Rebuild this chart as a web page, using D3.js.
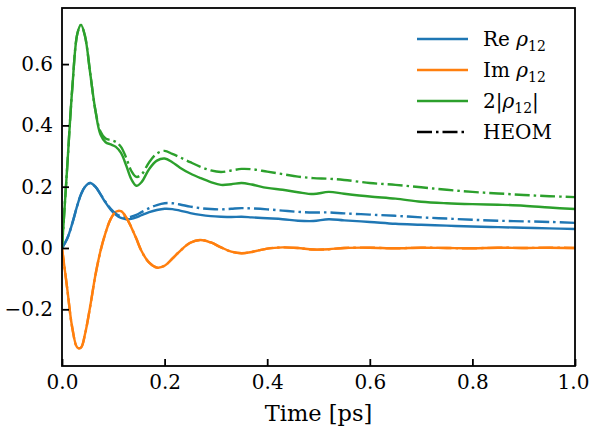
<!DOCTYPE html>
<html>
<head>
<meta charset="utf-8">
<script src="https://cdn.jsdelivr.net/npm/d3@7"></script>
<style>
  body { margin: 0; background: #fff; }
</style>
</head>
<body>
<svg width="590" height="428"></svg>
<script>
// time axis (ps)
var time = [0, 0.01, 0.02, 0.03, 0.037, 0.045, 0.055, 0.065, 0.075, 0.085, 0.095, 0.105, 0.115,
  0.125, 0.135, 0.145, 0.155, 0.17, 0.185, 0.2, 0.215, 0.23, 0.25, 0.27, 0.29, 0.31, 0.33, 0.35,
  0.37, 0.4, 0.43, 0.46, 0.49, 0.52, 0.55, 0.6, 0.65, 0.7, 0.75, 0.8, 0.85, 0.9, 0.95, 1.0];

// Re rho_12
var reSolid = [0, 0.03, 0.08, 0.14, 0.175, 0.2, 0.212, 0.2, 0.175, 0.148, 0.125, 0.108, 0.098,
  0.094, 0.095, 0.1, 0.107, 0.117, 0.124, 0.128, 0.127, 0.122, 0.114, 0.108, 0.104, 0.102, 0.101, 0.102,
  0.1, 0.097, 0.094, 0.089, 0.088, 0.094, 0.09, 0.085, 0.079, 0.076, 0.073, 0.07, 0.068, 0.066, 0.064, 0.062];
var reHeom = [0, 0.03, 0.08, 0.14, 0.175, 0.2, 0.212, 0.2, 0.176, 0.15, 0.128, 0.112, 0.103,
  0.1, 0.102, 0.108, 0.117, 0.13, 0.14, 0.146, 0.146, 0.142, 0.135, 0.13, 0.127, 0.126, 0.128, 0.13,
  0.129, 0.126, 0.122, 0.118, 0.116, 0.116, 0.113, 0.109, 0.105, 0.1, 0.096, 0.092, 0.089, 0.087, 0.085, 0.082];

// Im rho_12
var imSolid = [0, -0.13, -0.26, -0.325, -0.325, -0.28, -0.19, -0.09, -0.01, 0.05, 0.095, 0.118, 0.12,
  0.1, 0.068, 0.03, -0.01, -0.048, -0.064, -0.058, -0.035, -0.01, 0.017, 0.026, 0.018, 0.002, -0.012, -0.017,
  -0.013, -0.002, 0.002, 0, -0.005, -0.004, 0, 0.001, -0.001, 0.001, 0, -0.001, 0.001, 0, 0.001, 0];
var imHeom = [0, -0.13, -0.26, -0.325, -0.325, -0.28, -0.19, -0.09, -0.01, 0.05, 0.095, 0.118, 0.12,
  0.1, 0.068, 0.03, -0.01, -0.048, -0.064, -0.058, -0.035, -0.01, 0.017, 0.026, 0.018, 0.002, -0.012, -0.017,
  -0.013, -0.002, 0.002, 0, -0.005, -0.004, 0, 0.001, -0.001, 0.001, 0, -0.001, 0.001, 0, 0.001, 0];

// 2|rho_12|
var absSolid = [0, 0.26, 0.52, 0.7, 0.728, 0.69, 0.57, 0.45, 0.37, 0.345, 0.338, 0.33, 0.31,
  0.27, 0.225, 0.203, 0.215, 0.258, 0.285, 0.292, 0.28, 0.262, 0.243, 0.228, 0.215, 0.206, 0.208, 0.212,
  0.207, 0.196, 0.19, 0.182, 0.176, 0.183, 0.177, 0.168, 0.161, 0.151, 0.146, 0.143, 0.141, 0.138, 0.132, 0.127];
var absHeom = [0, 0.26, 0.52, 0.7, 0.728, 0.69, 0.57, 0.45, 0.38, 0.357, 0.352, 0.346, 0.33,
  0.295, 0.252, 0.232, 0.24, 0.28, 0.308, 0.317, 0.307, 0.296, 0.28, 0.265, 0.253, 0.248, 0.253, 0.258,
  0.257, 0.249, 0.241, 0.233, 0.228, 0.226, 0.222, 0.212, 0.206, 0.198, 0.19, 0.183, 0.178, 0.173, 0.169, 0.166];

var xTicks = [0, 0.2, 0.4, 0.6, 0.8, 1.0];
var yTicks = [-0.2, 0, 0.2, 0.4, 0.6];

var blue = "#1f77b4", orange = "#ff7f0e", green = "#2ca02c";
var serif = "DejaVu Serif";

var svg = d3.select("svg").attr("font-family", serif);
var margin = {left: 62, right: 15, top: 8, bottom: 62};
var width = 590 - margin.left - margin.right;
var height = 428 - margin.top - margin.bottom;

var x = d3.scaleLinear().domain([0, 1]).range([0, width]);
var y = d3.scaleLinear().domain([-0.385, 0.783]).range([height, 0]);

var g = svg.append("g").attr("transform", "translate(" + margin.left + "," + margin.top + ")");

g.append("clipPath").attr("id", "clip")
  .append("rect").attr("width", width).attr("height", height);

var line = d3.line()
  .x(function(d) { return x(d[0]); })
  .y(function(d) { return y(d[1]); })
  .curve(d3.curveCatmullRom.alpha(0.5));

function pairs(vals) {
  return time.map(function(t, i) { return [t, vals[i]]; });
}

var dashDot = "15,4,2.5,4";
var series = [
  {vals: reSolid, color: blue, dash: null},
  {vals: imSolid, color: orange, dash: null},
  {vals: absSolid, color: green, dash: null},
  {vals: reHeom, color: blue, dash: dashDot},
  {vals: imHeom, color: orange, dash: dashDot},
  {vals: absHeom, color: green, dash: dashDot}
];

var plot = g.append("g").attr("clip-path", "url(#clip)");
series.forEach(function(s) {
  plot.append("path")
    .attr("d", line(pairs(s.vals)))
    .attr("fill", "none")
    .attr("stroke", s.color)
    .attr("stroke-width", 2.4)
    .attr("stroke-dasharray", s.dash);
});

// axes, ticks pointing inward
var fmt = d3.format(".1f");
var xAxis = g.append("g")
  .attr("transform", "translate(0," + height + ")")
  .call(d3.axisBottom(x).tickValues(xTicks).tickFormat(fmt).tickSizeInner(-7).tickSizeOuter(0).tickPadding(9));
var yAxis = g.append("g")
  .call(d3.axisLeft(y).tickValues(yTicks).tickFormat(fmt).tickSizeInner(-7).tickSizeOuter(0).tickPadding(9));

[xAxis, yAxis].forEach(function(a) {
  a.attr("font-family", serif).attr("font-size", 20);
  a.select(".domain").remove();
  a.selectAll(".tick line").attr("stroke", "#000").attr("stroke-width", 1.8);
  a.selectAll(".tick text").attr("fill", "#000");
});
// keep the last x label inside the page
xAxis.selectAll(".tick text").filter(function(d) { return d === 1; }).attr("dx", -2);

// frame
g.append("rect")
  .attr("width", width).attr("height", height)
  .attr("fill", "none").attr("stroke", "#000").attr("stroke-width", 1.8);

// x label
svg.append("text")
  .attr("x", margin.left + width / 2)
  .attr("y", 421)
  .attr("text-anchor", "middle")
  .attr("font-size", 22.5)
  .text("Time [ps]");

// legend
var legendItems = [
  {color: blue, dash: null, pre: "Re ", post: ""},
  {color: orange, dash: null, pre: "Im ", post: ""},
  {color: green, dash: null, pre: "2|", post: "|"},
  {color: "#000", dash: dashDot, pre: null, post: null}
];
var legend = svg.append("g").attr("transform", "translate(417,39)");
legendItems.forEach(function(it, i) {
  var row = legend.append("g").attr("transform", "translate(0," + (i * 31) + ")");
  row.append("line")
    .attr("x1", 0).attr("x2", 51).attr("y1", 0).attr("y2", 0)
    .attr("stroke", it.color).attr("stroke-width", 2.4)
    .attr("stroke-dasharray", it.dash);
  var t = row.append("text").attr("x", 66).attr("y", 7).attr("font-size", 20);
  if (it.pre === null) {
    t.text("HEOM");
  } else {
    t.append("tspan").text(it.pre);
    t.append("tspan").attr("font-style", "italic").text("ρ");
    t.append("tspan").attr("dy", 5).attr("font-size", 14).text("12");
    if (it.post) t.append("tspan").attr("dy", -5).text(it.post);
  }
});
</script>
</body>
</html>
